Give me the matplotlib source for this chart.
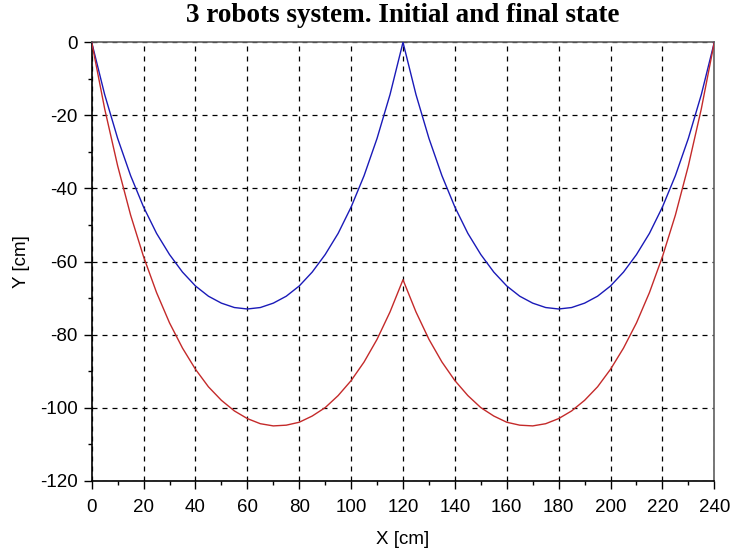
import numpy as np
import matplotlib
matplotlib.use("Agg")
import matplotlib.pyplot as plt
from matplotlib.ticker import MultipleLocator

plt.rcParams["axes.unicode_minus"] = False

# Blue curve (final state): two symmetric catenary arcs, values read every 5 cm
x_blue = [0, 5, 10, 15, 20, 25, 30, 35, 40, 45, 50, 55, 60,
          65, 70, 75, 80, 85, 90, 95, 100, 105, 110, 115, 120,
          125, 130, 135, 140, 145, 150, 155, 160, 165, 170, 175, 180,
          185, 190, 195, 200, 205, 210, 215, 220, 225, 230, 235, 240]
y_blue = [0.0, -14.3, -26.3, -36.5, -45.1, -52.3, -58.1, -62.9, -66.7, -69.5, -71.4, -72.6, -73.0,
          -72.6, -71.4, -69.5, -66.7, -62.9, -58.1, -52.3, -45.1, -36.5, -26.3, -14.3, 0.0,
          -14.3, -26.3, -36.5, -45.1, -52.3, -58.1, -62.9, -66.7, -69.5, -71.4, -72.6, -73.0,
          -72.6, -71.4, -69.5, -66.7, -62.9, -58.1, -52.3, -45.1, -36.5, -26.3, -14.3, 0.0]

# Red curve (initial state)
x_red = [0, 5, 10, 15, 20, 25, 30, 35, 40, 45, 50, 55, 60, 65, 70, 75, 80, 85, 90,
         95, 100, 105, 110, 115, 120,
         125, 130, 135, 140, 145, 150, 155, 160, 165, 170, 175, 180, 185, 190,
         195, 200, 205, 210, 215, 220, 225, 230, 235, 240]
y_red = [0.0, -18.2, -33.8, -47.3, -58.7, -68.5, -76.8, -83.7, -89.5, -94.3, -98.0, -100.9,
         -103.0, -104.4, -105.0, -104.8, -104.0, -102.3, -100.0, -96.7, -92.6, -87.5, -81.3,
         -73.8, -65.0,
         -73.8, -81.3, -87.5, -92.6, -96.7, -100.0, -102.3, -104.0, -104.8, -105.0, -104.4,
         -103.0, -100.9, -98.0, -94.3, -89.5, -83.7, -76.8, -68.5, -58.7, -47.3, -33.8,
         -18.2, 0.0]

x_ticks = [0, 20, 40, 60, 80, 100, 120, 140, 160, 180, 200, 220, 240]
y_ticks = [-120, -100, -80, -60, -40, -20, 0]

title = "3 robots system. Initial and final state"
x_label = "X [cm]"
y_label = "Y [cm]"

W, H = 732, 554
fig = plt.figure(figsize=(W / 100, H / 100), dpi=100)
ax = fig.add_axes([91.7 / W, 1 - 480.7 / H, (714.3 - 91.7) / W, (480.7 - 42.3) / H])

ax.plot(x_blue, y_blue, color="#1a1ab8", lw=1.0, zorder=3)
ax.plot(x_red, y_red, color="#c42a2a", lw=1.0, zorder=3)

ax.set_xlim(0, 240)
ax.set_ylim(-120, 0)
ax.set_xticks(x_ticks)
ax.set_yticks(y_ticks)
ax.xaxis.set_minor_locator(MultipleLocator(10))
ax.yaxis.set_minor_locator(MultipleLocator(10))
ax.grid(True, which="major", color="black", linestyle=(0, (4, 4)), lw=0.9)

sans = ["Liberation Sans", "DejaVu Sans"]
for lab in ax.get_xticklabels() + ax.get_yticklabels():
    lab.set_fontfamily(sans)
    lab.set_fontsize(13.5)

ax.tick_params(which="major", direction="out", length=6, width=1, color="black")
ax.tick_params(axis="x", which="major", pad=7)
ax.tick_params(axis="y", which="major", pad=4)
ax.tick_params(which="minor", direction="out", length=3, width=1, color="black")
ax.tick_params(top=False, right=False)

for s in ["left", "bottom"]:
    ax.spines[s].set_color("black")
    ax.spines[s].set_linewidth(1.2)
for s in ["top", "right"]:
    ax.spines[s].set_color("#606060")
    ax.spines[s].set_linewidth(1.2)

fig.text(403 / W, 1 - 540 / H, x_label, ha="center", va="center",
         family=sans, fontsize=13.5)
fig.text(22 / W, 1 - 261.5 / H, y_label, ha="center", va="center",
         family=sans, fontsize=13.5, rotation=90)

fig.text(403 / W, 1 - 15 / H, title, ha="center", va="center",
         family=["Liberation Serif", "DejaVu Serif"], weight="bold", fontsize=19.5)

fig.savefig("out.png", dpi=100)
